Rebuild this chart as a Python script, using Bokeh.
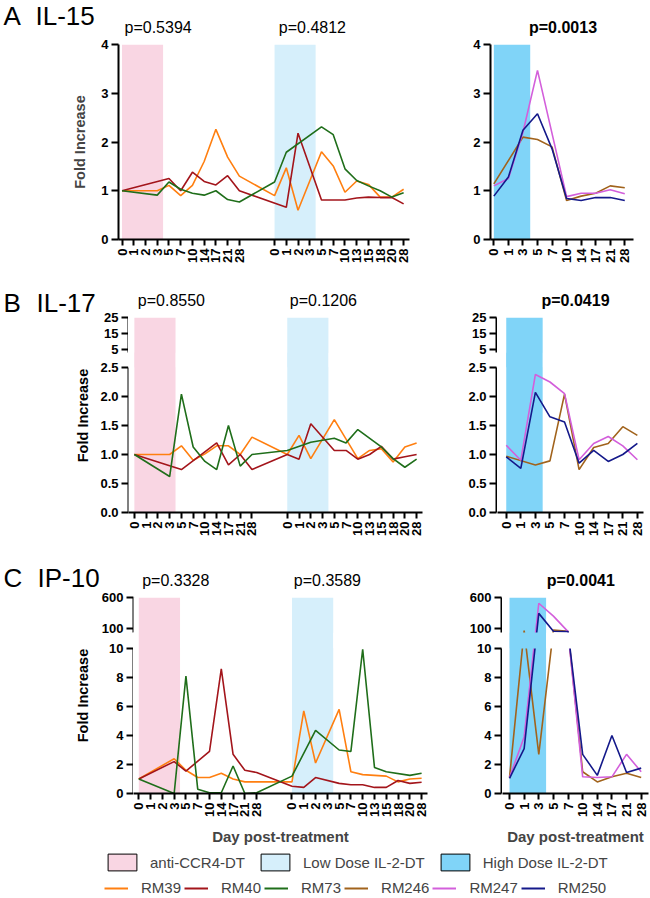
import math
from bokeh.plotting import figure
from bokeh.models import (Range1d, FixedTicker, BoxAnnotation, Legend,
                          LegendItem, ColumnDataSource)
from bokeh.core.properties import value
from bokeh.layouts import column, row
from bokeh.embed import file_html
from bokeh.resources import INLINE

FONT = "Liberation Sans"

# ---------------- tick labels / categories ----------------
days_first = ["0", "1", "2", "3", "5", "7", "10", "14", "17", "21", "28"]
days_second = ["0", "1", "2", "3", "5", "7", "10", "13", "15", "18", "20", "28"]
days_high = ["0", "1", "3", "5", "7", "10", "14", "17", "21", "28"]

panel_letters = ["A", "B", "C"]
cytokines = ["IL-15", "IL-17", "IP-10"]
p_anti_ccr4 = ["p=0.5394", "p=0.8550", "p=0.3328"]
p_low_dose = ["p=0.4812", "p=0.1206", "p=0.3589"]
p_high_dose = ["p=0.0013", "p=0.0419", "p=0.0041"]

treatments = ["anti-CCR4-DT", "Low Dose IL-2-DT", "High Dose IL-2-DT"]
treatment_colors = ["#F9D6E3", "#D6EFFB", "#80D4F8"]
monkeys = ["RM39", "RM40", "RM73", "RM246", "RM247", "RM250"]
monkey_colors = ["#FF7F10", "#A3151B", "#1F6E1A", "#A1631C", "#D35FDB", "#14198A"]

il15_ticks = [0, 1, 2, 3, 4]
il15_tick_labels = ["0", "1", "2", "3", "4"]
il17_low_ticks = [0, 0.5, 1.0, 1.5, 2.0, 2.5]
il17_low_tick_labels = ["0.0", "0.5", "1.0", "1.5", "2.0", "2.5"]
il17_high_ticks = [5, 15, 25]
il17_high_tick_labels = ["5", "15", "25"]
ip10_low_ticks = [0, 2, 4, 6, 8, 10]
ip10_low_tick_labels = ["0", "2", "4", "6", "8", "10"]
ip10_high_ticks = [100, 600]
ip10_high_tick_labels = ["100", "600"]

# ---------------- values (None = no sample drawn) ----------------
# IL-15: anti-CCR4-DT period, then low-dose IL-2-DT period
il15_rm39_first = [1.00, None, None, 1.00, 1.11, 0.90, 1.11, 1.60, 2.26, 1.69, 1.30]
il15_rm39_second = [0.90, 1.47, 0.60, None, 1.80, 1.51, 0.97, 1.20, 1.13, 0.87, 0.87, 1.03]
il15_rm40_first = [1.00, None, None, None, 1.25, 1.00, 1.38, 1.19, 1.12, 1.31, 1.00]
il15_rm40_second = [None, 0.66, 2.18, None, 0.81, 0.81, 0.81, 0.85, 0.87, 0.86, 0.86, 0.73]
il15_rm73_first = [1.00, None, None, 0.91, 1.18, 1.03, 0.95, 0.91, 1.00, 0.82, 0.77]
il15_rm73_second = [1.18, 1.79, None, None, 2.31, 2.15, 1.45, 1.21, 1.10, 1.00, 0.87, 0.96]
# IL-15: high-dose IL-2-DT
il15_rm246 = [1.14, None, 2.10, 2.05, 1.90, 0.80, 0.89, 0.95, 1.10, 1.06]
il15_rm247 = [1.10, 1.25, 2.20, 3.47, None, 0.88, 0.95, 0.95, 1.02, 0.94]
il15_rm250 = [0.89, 1.28, 2.24, 2.58, 1.86, 0.84, 0.80, 0.86, 0.86, 0.80]

# IL-17
il17_rm39_first = [1.00, None, None, 1.00, 1.15, 0.90, 1.01, 1.15, 1.15, 1.00, 1.30]
il17_rm39_second = [1.00, 1.33, 0.93, None, 1.60, None, 0.93, 1.07, 1.10, 0.87, 1.13, 1.20]
il17_rm40_first = [1.00, None, None, None, 0.74, None, None, 1.20, 0.82, 1.00, 0.74]
il17_rm40_second = [1.00, 0.92, 1.53, None, 1.07, 1.07, 0.92, 1.00, 1.14, 0.92, 0.96, 1.00]
il17_rm73_first = [1.00, None, None, 0.62, 2.04, 1.13, 0.88, 0.74, 1.50, 0.80, 1.00]
il17_rm73_second = [1.07, None, 1.21, None, 1.28, 1.20, 1.43, None, 1.13, 0.93, 0.78, 0.92]
il17_rm246 = [0.97, None, 0.82, 0.89, 2.04, 0.74, 1.12, 1.19, 1.48, 1.33]
il17_rm247 = [1.16, 0.90, 2.38, 2.25, 2.05, 0.91, 1.19, 1.31, 1.15, 0.91]
il17_rm250 = [0.96, 0.76, 2.07, 1.65, 1.56, 0.85, 1.07, 0.88, 1.00, 1.19]

# IP-10
ip10_rm39_first = [1.0, None, None, 2.4, 1.6, 1.1, 1.1, 1.4, 1.0, 0.8, 0.8]
ip10_rm39_second = [0.8, 5.7, 2.1, None, 5.8, 1.5, 1.3, 1.25, 1.2, 0.8, 1.0, 1.05]
ip10_rm40_first = [1.0, None, None, 2.2, 1.55, None, 2.9, 8.6, 2.7, 1.6, 1.45]
ip10_rm40_second = [0.5, 0.42, 1.1, None, 0.7, 0.6, 0.6, 0.42, 0.42, 0.9, 0.7, 0.78]
ip10_rm73_first = [1.0, None, None, 0.0, 8.1, 0.3, 0.05, 0.05, 1.9, 0.0, 0.05]
ip10_rm73_second = [1.2, None, 4.35, None, 3.0, 2.9, 9.95, 1.8, 1.5, None, 1.25, 1.4]
ip10_rm246 = [1.1, 65, 2.7, 75, 55, 1.5, 0.8, 1.15, 1.4, 1.1]
ip10_rm247 = [1.1, 3.9, 507, 300, 50, 1.15, 1.1, 1.15, 2.7, 1.5]
ip10_rm250 = [1.05, 3.1, 344, 56, 50, 2.7, 1.25, 4.0, 1.45, 1.75]

# ---------------- positions on the category axis ----------------
PERIOD_GAP = 2
pos_first = list(range(len(days_first)))
pos_second = [len(days_first) + PERIOD_GAP + j for j in range(len(days_second))]
pos_high = list(range(len(days_high)))
low_pos_all = pos_first + pos_second
low_lab_all = days_first + days_second


def band_extent(positions, days):
    return positions[days.index("0")], positions[days.index("3")] + 0.5


low_bands = list(zip([band_extent(pos_first, days_first),
                      band_extent(pos_second, days_second)], treatment_colors[:2]))
high_bands = [(band_extent(pos_high, days_high), treatment_colors[2])]


# ---------------- broken-axis scale (piecewise linear on screen) ----------------
def make_break(lo_max, lo_px, gap_px, up_low, up_high, up_px):
    k = up_px / (up_high - up_low)

    def f(v):
        if v <= lo_max:
            return v * lo_px / lo_max
        if v <= up_low:
            return lo_px + (v - lo_max) / (up_low - lo_max) * gap_px
        return lo_px + gap_px + (v - up_low) * k
    return f


ident = lambda v: v


def series_src(vals_a, pos_a, vals_b=None, pos_b=None, tf=ident):
    xs, ys = [], []
    pairs = list(zip(pos_a, vals_a))
    if vals_b is not None:
        pairs += list(zip(pos_b, vals_b))
    for p_, v in pairs:
        if v is not None:
            xs.append(p_)
            ys.append(tf(v))
    return ColumnDataSource(dict(x=xs, y=ys))


def base_fig(w, h, xr, yr, ml, mr, mt, mb, xaxis=True, yaxis=True):
    p = figure(width=w, height=h, x_range=xr, y_range=yr, title=None,
               output_backend="svg", toolbar_location=None, tools="",
               x_axis_location=("below" if xaxis else None),
               y_axis_location=("left" if yaxis else None),
               min_border_left=ml, min_border_right=mr,
               min_border_top=mt, min_border_bottom=mb)
    p.outline_line_color = None
    p.background_fill_color = "white"
    p.border_fill_color = "white"
    p.grid.visible = False
    return p


def style_axis(ax, tick_out):
    ax.axis_line_width = 2
    ax.axis_line_color = "black"
    ax.major_tick_line_width = 2
    ax.major_tick_line_color = "black"
    ax.major_tick_in = 0
    ax.major_tick_out = tick_out
    ax.minor_tick_line_color = None
    ax.major_label_text_font = FONT
    ax.major_label_text_font_style = "bold"
    ax.major_label_text_font_size = "13px"
    ax.major_label_text_color = "black"
    ax.major_label_standoff = 3


def set_yticks(p, ticks, labels, tf=ident, bounds=None):
    tt = [tf(t) for t in ticks]
    p.yaxis.ticker = FixedTicker(ticks=tt)
    p.yaxis.major_label_overrides = {t: l for t, l in zip(tt, labels)}
    style_axis(p.yaxis[0], 7)
    if bounds is not None:
        p.yaxis.bounds = bounds


def set_xticks(p, positions, labels):
    p.xaxis.ticker = FixedTicker(ticks=positions)
    p.xaxis.major_label_overrides = {int(q): l for q, l in zip(positions, labels)}
    style_axis(p.xaxis[0], 6)
    p.xaxis.major_label_orientation = math.pi / 2


def box(p, left, right, bottom, top, color, level):
    p.add_layout(BoxAnnotation(left=left, right=right, bottom=bottom, top=top,
                               fill_color=color, fill_alpha=1.0, line_color=None,
                               level=level))


def add_bands(p, bands):
    for (l, r), c in bands:
        box(p, l, r, None, None, c, "underlay")


def add_gap_mask(p, xr, lo, hi, bands):
    """Hide the line pieces inside the axis break; shaded bands stay continuous."""
    edges = [xr.start - 1]
    for (l, r), c in bands:
        edges += [l, r]
    edges.append(xr.end + 1)
    colors = []
    for (l, r), c in bands:
        colors += ["white", c]
    colors.append("white")
    for j, c in enumerate(colors):
        box(p, edges[j], edges[j + 1], lo, hi, c, "overlay")


def text_fig(left, top, w, h, items):
    """Figure whose frame is the whole canvas, in page pixels (y downwards negated)."""
    p = base_fig(w, h, Range1d(left, left + w), Range1d(-(top + h), -top), 0, 0, 0, 0,
                 xaxis=False, yaxis=False)
    for (x, y, txt, size, bold, align, angle) in items:
        p.text(x=[x], y=[-y], text=[txt], text_font=value(FONT), text_font_size=value(size),
               text_font_style=("bold" if bold else "normal"), text_align=align,
               text_baseline="middle", angle=angle, text_color="black")
    return p


def pvalue_items(i, p_pos, p_mid):
    return [
        (p_pos[0], p_mid, p_anti_ccr4[i], "16px", False, "left", 0.0),
        (p_pos[1], p_mid, p_low_dose[i], "16px", False, "left", 0.0),
        (p_pos[2], p_mid, p_high_dose[i], "16px", True, "center", 0.0),
    ]


def title_items(i, x_title, t_mid):
    return [
        (3, t_mid, panel_letters[i], "26px", False, "left", 0.0),
        (x_title, t_mid, cytokines[i], "26px", False, "left", 0.0),
    ]


LW = 1.6

# ======================= Panel A (IL-15) =======================
hdrA = text_fig(0, 0, 650, 36, title_items(0, 35, 15.2) +
                pvalue_items(0, (124, 278.3, 562.5), 26.8))
xrAL = Range1d(-0.3, 24.5)
xrAR = Range1d(-0.23, 9.6)
yrA = Range1d(0, 4)
aL = base_fig(420, 234, xrAL, yrA, 118, 11, 8, 31)
aR = base_fig(230, 234, xrAR, yrA, 70, 17, 8, 31)
add_bands(aL, low_bands)
add_bands(aR, high_bands)
for first, second, c in [(il15_rm39_first, il15_rm39_second, monkey_colors[0]),
                         (il15_rm40_first, il15_rm40_second, monkey_colors[1]),
                         (il15_rm73_first, il15_rm73_second, monkey_colors[2])]:
    aL.line("x", "y", source=series_src(first, pos_first, second, pos_second),
            line_color=c, line_width=LW)
for vals, c in [(il15_rm246, monkey_colors[3]), (il15_rm247, monkey_colors[4]),
                (il15_rm250, monkey_colors[5])]:
    aR.line("x", "y", source=series_src(vals, pos_high), line_color=c, line_width=LW)
for p in (aL, aR):
    set_yticks(p, il15_ticks, il15_tick_labels)
set_xticks(aL, low_pos_all, low_lab_all)
set_xticks(aR, pos_high, days_high)
aL.yaxis.axis_label = "Fold Increase"
aL.yaxis.axis_label_text_font = FONT
aL.yaxis.axis_label_text_font_style = "bold"
aL.yaxis.axis_label_text_font_size = "14.5px"
aL.yaxis.axis_label_standoff = 10
panelA = column(hdrA, row(aL, aR))


# ======================= broken panels (B, C) =======================
def broken_panel(i, tf, split, top_t, lo_top_t, up_bot_t, top_px, hdr_h, lo_mb, side_w,
                 xrL, xrR, axL_w, mrL, fwL, axR_w, mrR, fwR,
                 low_series, high_series, lo_ticks, lo_labels, hi_ticks, hi_labels,
                 x_title, t_mid, p_pos, p_mid, fold_y, xlabel=None):
    MT = 8
    cols = []
    for side, xr, ax_w, mr, fw in [("L", xrL, axL_w, mrL, fwL), ("R", xrR, axR_w, mrR, fwR)]:
        # y axis in two pieces (upper / lower segment of the broken scale)
        ax_up = base_fig(ax_w, MT + top_t - split, Range1d(0, 1), Range1d(split, top_t),
                         ax_w - 1, 0, MT, 0, xaxis=False)
        ax_lo = base_fig(ax_w, split + lo_mb, Range1d(0, 1), Range1d(0, split),
                         ax_w - 1, 0, 0, lo_mb, xaxis=False)
        set_yticks(ax_up, hi_ticks, hi_labels, tf, bounds=(up_bot_t, top_t))
        set_yticks(ax_lo, lo_ticks, lo_labels, tf, bounds=(0, lo_top_t))
        # data frame spanning both segments
        main = base_fig(fw + mr, MT + top_t + lo_mb, xr, Range1d(0, top_t), 0, mr, MT, lo_mb,
                        yaxis=False)
        bands = low_bands if side == "L" else high_bands
        add_bands(main, bands)
        if side == "L":
            for first, second, c in low_series:
                main.line("x", "y", source=series_src(first, pos_first, second, pos_second, tf),
                          line_color=c, line_width=LW)
            set_xticks(main, low_pos_all, low_lab_all)
        else:
            for vals, c in high_series:
                main.line("x", "y", source=series_src(vals, pos_high, tf=tf),
                          line_color=c, line_width=LW)
            set_xticks(main, pos_high, days_high)
        add_gap_mask(main, xr, lo_top_t, up_bot_t, bands)
        if xlabel:
            main.xaxis.axis_label = xlabel
            main.xaxis.axis_label_text_font = FONT
            main.xaxis.axis_label_text_font_style = "bold"
            main.xaxis.axis_label_text_font_size = "15px"
            main.xaxis.axis_label_standoff = 8
        cols.append(row(column(ax_up, ax_lo), main))
    total_h = hdr_h + MT + top_t + lo_mb
    side_fig = text_fig(0, top_px, side_w, total_h,
                        title_items(i, x_title, t_mid) +
                        [(82.5, fold_y, "Fold Increase", "14.5px", True, "center", math.pi / 2)])
    hdr = text_fig(side_w, top_px, 650 - side_w, hdr_h, pvalue_items(i, p_pos, p_mid))
    return row(side_fig, column(hdr, row(*cols)))


# ---- Panel B (IL-17) ----
tfB = make_break(2.5, 145, 15, 3.125, 25, 35)
panelB = broken_panel(
    1, tfB, 152, 195, 145, 160, 270, 39, 36, 99,
    Range1d(-0.5, 24.5), Range1d(-0.6, 9.42), 29, 13, 294, 62, 7, 146,
    [(il17_rm39_first, il17_rm39_second, monkey_colors[0]),
     (il17_rm40_first, il17_rm40_second, monkey_colors[1]),
     (il17_rm73_first, il17_rm73_second, monkey_colors[2])],
    [(il17_rm246, monkey_colors[3]), (il17_rm247, monkey_colors[4]), (il17_rm250, monkey_colors[5])],
    il17_low_ticks, il17_low_tick_labels, il17_high_ticks, il17_high_tick_labels,
    36, 302.0, (137.3, 289.3, 575), 299.8, 415)

# ---- Panel C (IP-10) ----
tfC = make_break(10, 145, 16, 35.5, 600, 35)
panelC = broken_panel(
    2, tfC, 153, 196, 145, 161, 548, 41, 54, 100,
    Range1d(-0.45, 24.5), Range1d(-0.48, 9.5), 33, 13, 294, 62, 2, 146,
    [(ip10_rm39_first, ip10_rm39_second, monkey_colors[0]),
     (ip10_rm40_first, ip10_rm40_second, monkey_colors[1]),
     (ip10_rm73_first, ip10_rm73_second, monkey_colors[2])],
    [(ip10_rm246, monkey_colors[3]), (ip10_rm247, monkey_colors[4]), (ip10_rm250, monkey_colors[5])],
    ip10_low_ticks, ip10_low_tick_labels, ip10_high_ticks, ip10_high_tick_labels,
    37, 577.6, (141.7, 293.3, 580.3), 579.8, 695, xlabel="Day post-treatment")

# ======================= legends =======================
leg1 = base_fig(650, 30, Range1d(0, 1), Range1d(0, 1), 104, 0, 0, 0, xaxis=False, yaxis=False)
box_rs = [leg1.quad(left=[2], right=[3], top=[3], bottom=[2], fill_color=c, line_color="black",
                    line_width=1) for c in treatment_colors]
legend1 = Legend(items=[LegendItem(label=t, renderers=[r]) for t, r in zip(treatments, box_rs)],
                 orientation="horizontal", location="left", glyph_width=36, glyph_height=21,
                 label_standoff=10, spacing=12, padding=0, margin=0, border_line_color=None,
                 background_fill_alpha=0, label_text_font=FONT, label_text_font_size="15px",
                 label_height=21)
leg1.add_layout(legend1)

leg2 = base_fig(650, 19, Range1d(0, 1), Range1d(0, 1), 86, 0, 0, 0, xaxis=False, yaxis=False)
line_rs = [leg2.line(x=[2, 3], y=[2, 2], line_color=c, line_width=2) for c in monkey_colors]
legend2 = Legend(items=[LegendItem(label=m, renderers=[r]) for m, r in zip(monkeys, line_rs)],
                 orientation="horizontal", location="bottom_left", glyph_width=24, glyph_height=16,
                 label_standoff=13, spacing=3, padding=0, margin=0, border_line_color=None,
                 background_fill_alpha=0, label_text_font=FONT, label_text_font_size="15px",
                 label_height=16)
leg2.add_layout(legend2)

layout = column(panelA, panelB, panelC, leg1, leg2)

open("out.html", "w").write(file_html(layout, INLINE))
